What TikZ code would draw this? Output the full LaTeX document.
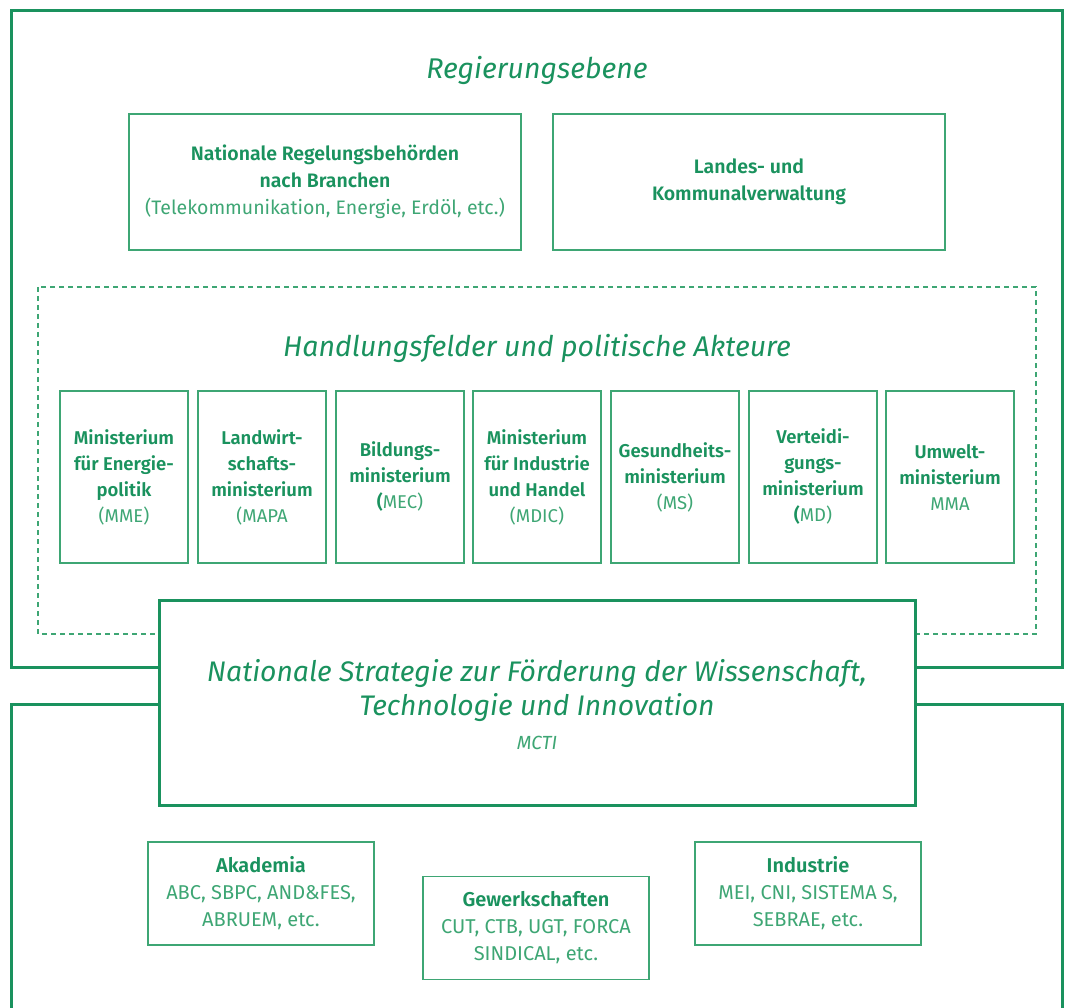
\documentclass[tikz,border=0pt]{standalone}
\usepackage{fontspec}
\setmainfont{Fira Sans}[BoldFont = {Fira Sans SemiBold}]
\usepackage{tikz}
\definecolor{grn}{RGB}{26,146,94}
\definecolor{grnlight}{RGB}{62,166,116}
\newcommand{\fsz}[2]{\fontsize{#1}{#2}\selectfont}

\begin{document}
\begin{tikzpicture}[x = 1pt, y = -1pt,
                        frame/.style = {draw = grn, line width = 3pt},
                        ebene/.style = {text = grn, font = \fsz{28.5}{34}\itshape},
                        regbox/.style = {draw = grnlight, line width = 1.3pt, minimum width = 392pt, minimum height = 136pt,
                                         align = center, text = grnlight, font = \fsz{19.5}{27}},
                        minbox/.style = {draw = grnlight, line width = 1.3pt, minimum width = 128pt, minimum height = 172pt,
                                         inner sep = 0pt, align = center, text = grnlight, font = \fsz{18.5}{26}},
                        akteur/.style = {draw = grnlight, line width = 1.3pt, minimum width = 226pt, minimum height = 103pt,
                                         align = center, text = grnlight, font = \fsz{20}{27}},
                        strat/.style = {draw = grn, fill = white, line width = 3pt, minimum width = 756pt, minimum height = 205pt}]
      \useasboundingbox (0, 0) rectangle (1069, 1008);
      % Rahmen
      \draw [frame] (11, 11) rectangle (1062, 667);
      \draw [frame] (11, 1010) |- (1062, 704) -- (1062, 1010);
      \node [ebene] (reg) at (537, 70){Regierungsebene};
      \node [regbox] (nrb) at (325, 182){\textbf{\color{grn}Nationale Regelungsbehörden}\\\textbf{\color{grn}nach Branchen}\\(Telekommunikation, Energie, Erdöl, etc.)};
      \node [regbox] (lkv) at (749, 182){\textbf{\color{grn}Landes- und}\\\textbf{\color{grn}Kommunalverwaltung}};
      % Handlungsfelder
      \draw [draw = grnlight, line width = 1.2pt, dash pattern = on 5pt off 4pt] (38, 287) rectangle (1036, 634);
      \node [ebene] (hf) at (537, 348){Handlungsfelder und politische Akteure};
      \node [minbox] (m1) at (124, 477){\textbf{\color{grn}Ministerium}\\\textbf{\color{grn}für Energie-}\\\textbf{\color{grn}politik}\\(MME)};
      \node [minbox] (m2) at (262, 477){\textbf{\color{grn}Landwirt-}\\\textbf{\color{grn}schafts-}\\\textbf{\color{grn}ministerium}\\(MAPA};
      \node [minbox] (m3) at (400, 477){\textbf{\color{grn}Bildungs-}\\\textbf{\color{grn}ministerium}\\\textbf{\color{grn}(}MEC)};
      \node [minbox] (m4) at (537, 477){\textbf{\color{grn}Ministerium}\\\textbf{\color{grn}für Industrie}\\\textbf{\color{grn}und Handel}\\(MDIC)};
      \node [minbox] (m5) at (675, 477){\textbf{\color{grn}Gesundheits-}\\\textbf{\color{grn}ministerium}\\(MS)};
      \node [minbox] (m6) at (813, 477){\textbf{\color{grn}Verteidi-}\\\textbf{\color{grn}gungs-}\\\textbf{\color{grn}ministerium}\\\textbf{\color{grn}(}MD)};
      \node [minbox] (m7) at (950, 477){\textbf{\color{grn}Umwelt-}\\\textbf{\color{grn}ministerium}\\MMA};
      % Strategie
      \node [strat] (mcti) at (537, 702.5){};
      \node [text = grn, align = center, font = \fsz{28.3}{34}\itshape] (mctitxt) at (537, 691){Nationale Strategie zur Förderung der Wissenschaft,\\Technologie und Innovation};
      \node [text = grnlight, font = \fsz{19}{22}\itshape] (mctiabk) at (537, 743){MCTI};
      % Zivilgesellschaft
      \node [akteur] (aka) at (261, 893.5){\textbf{\color{grn}Akademia}\\ABC, SBPC, AND\&FES,\\ABRUEM, etc.};
      \node [akteur] (gew) at (536, 928){\textbf{\color{grn}Gewerkschaften}\\CUT, CTB, UGT, FORCA\\SINDICAL, etc.};
      \node [akteur] (ind) at (808, 893.5){\textbf{\color{grn}Industrie}\\MEI, CNI, SISTEMA S,\\SEBRAE, etc.};
    \end{tikzpicture}
\end{document}
